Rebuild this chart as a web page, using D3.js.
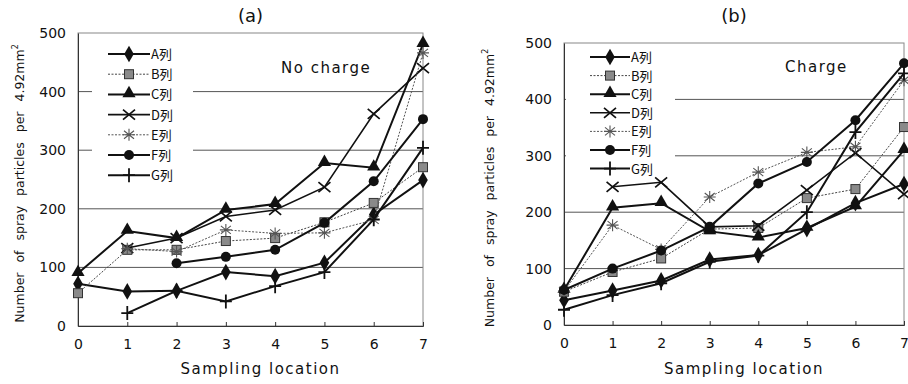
<!DOCTYPE html>
<html>
<head>
<meta charset="utf-8">
<script src="https://cdn.jsdelivr.net/npm/d3@7"></script>
<style>
  body { margin: 0; background: #fff; }
  svg { display: block; }
  text { font-family: "DejaVu Sans", "Noto Sans CJK JP", sans-serif; fill: #111; }
  .legend text { font-family: "Noto Sans CJK JP", "DejaVu Sans", sans-serif; }
</style>
</head>
<body>
<svg id="chart" width="908" height="384"></svg>
<script>
const locations = [0, 1, 2, 3, 4, 5, 6, 7];
const yTicks = [0, 100, 200, 300, 400, 500];
const seriesNames = ["A列", "B列", "C列", "D列", "E列", "F列", "G列"];

// (a) No charge
const noChargeA = [72, 59, 60, 92, 85, 108, 190, 249];
const noChargeB = [56, 130, 130, 145, 150, 177, 210, 271];
const noChargeC = [90, 162, 150, 198, 208, 278, 270, 481];
const noChargeD = [null, 133, 150, 187, 198, 237, 362, 440];
const noChargeE = [null, 132, 127, 164, 158, 159, 181, 466];
const noChargeF = [null, null, 107, 118, 130, 176, 247, 353];
const noChargeG = [null, 22, 60, 42, 68, 92, 182, 304];

// (b) Charge
const chargeA = [44, 61, 79, 116, 124, 170, 216, 250];
const chargeB = [59, 94, 118, 170, 172, 225, 241, 351];
const chargeC = [62, 208, 216, 166, 155, 172, 210, 310];
const chargeD = [null, 245, 253, 174, 176, 239, 305, 232];
const chargeE = [60, 177, 134, 227, 271, 306, 316, 434];
const chargeF = [62, 100, 132, 174, 251, 289, 363, 464];
const chargeG = [27, 53, 74, 112, 123, 200, 342, 446];

const styles = [
  { sym: "diamond", stroke: "#111", width: 2, dash: null },
  { sym: "square", stroke: "#444", width: 1, dash: "2,1.5" },
  { sym: "triangle", stroke: "#111", width: 2, dash: null },
  { sym: "cross", stroke: "#111", width: 1.6, dash: null },
  { sym: "star", stroke: "#555", width: 1, dash: "2,1.5" },
  { sym: "circle", stroke: "#111", width: 2, dash: null },
  { sym: "plus", stroke: "#111", width: 2, dash: null }
];

const svg = d3.select("#chart");

function drawMarker(g, type, x, y) {
  if (type === "diamond") {
    g.append("path").attr("d", d3.symbol(d3.symbolDiamond, 80)())
      .attr("transform", `translate(${x},${y})`).attr("fill", "#111");
  } else if (type === "square") {
    g.append("rect").attr("x", x - 4.5).attr("y", y - 4.5).attr("width", 9).attr("height", 9)
      .attr("fill", "#8a8a8a").attr("stroke", "#333").attr("stroke-width", 1);
  } else if (type === "triangle") {
    g.append("path").attr("d", d3.symbol(d3.symbolTriangle, 75)())
      .attr("transform", `translate(${x},${y - 1})`).attr("fill", "#111");
  } else if (type === "circle") {
    g.append("circle").attr("cx", x).attr("cy", y).attr("r", 5).attr("fill", "#111");
  } else if (type === "cross") {
    g.append("path").attr("d", `M${x - 6},${y - 5}L${x + 6},${y + 5}M${x - 6},${y + 5}L${x + 6},${y - 5}`)
      .attr("stroke", "#111").attr("stroke-width", 1.7);
  } else if (type === "star") {
    g.append("path").attr("d", `M${x - 5},${y - 4}L${x + 5},${y + 4}M${x - 5},${y + 4}L${x + 5},${y - 4}M${x},${y - 6}L${x},${y + 6}M${x - 6},${y}L${x + 6},${y}`)
      .attr("stroke", "#555").attr("stroke-width", 1.1);
  } else if (type === "plus") {
    g.append("path").attr("d", `M${x - 6},${y}L${x + 6},${y}M${x},${y - 7}L${x},${y + 7}`)
      .attr("stroke", "#111").attr("stroke-width", 1.8);
  }
}

function drawPanel(opts) {
  const { left, right, top, bottom, series, title, note, noteX, noteY, legend, yTitleX } = opts;
  const x = d3.scaleLinear().domain([0, 7]).range([left, right]);
  const y = d3.scaleLinear().domain([0, 500]).range([bottom, top]);
  const g = svg.append("g");

  // gridlines
  g.selectAll(".grid").data(yTicks.slice(1, 5)).enter().append("line")
    .attr("x1", left).attr("x2", right)
    .attr("y1", d => y(d)).attr("y2", d => y(d))
    .attr("stroke", "#555").attr("stroke-width", 1);

  // frame
  g.append("rect").attr("x", left).attr("y", top)
    .attr("width", right - left).attr("height", bottom - top)
    .attr("fill", "none").attr("stroke", "#888").attr("stroke-width", 1);

  // legend background hides the gridlines
  const lg = g.append("g").attr("class", "legend");
  lg.append("rect").attr("x", legend.x0).attr("y", legend.y0)
    .attr("width", legend.w).attr("height", legend.h).attr("fill", "#fff");

  // axes
  const xAxis = d3.axisBottom(x).tickValues(locations).tickSize(-4).tickPadding(13).tickFormat(d3.format("d"));
  const gx = g.append("g").attr("transform", `translate(0,${bottom})`).call(xAxis);
  gx.select(".domain").attr("stroke", "#333");
  gx.selectAll(".tick line").attr("stroke", "#333");
  gx.selectAll("text").attr("font-size", 14).attr("fill", "#111")
    .attr("font-family", "DejaVu Sans");

  const yAxis = d3.axisLeft(y).tickValues(yTicks).tickSize(0).tickPadding(12);
  const gy = g.append("g").attr("transform", `translate(${left},0)`).call(yAxis);
  gy.select(".domain").attr("stroke", "#333");
  gy.selectAll("text").attr("font-size", 14).attr("fill", "#111")
    .attr("font-family", "DejaVu Sans");

  // lines + markers
  series.forEach((vals, i) => {
    const st = styles[i];
    const pts = locations.map((l, j) => ({ l, v: vals[j] })).filter(d => d.v != null);
    const line = d3.line().x(d => x(d.l)).y(d => y(d.v));
    g.append("path").datum(pts).attr("d", line)
      .attr("fill", "none").attr("stroke", st.stroke)
      .attr("stroke-width", st.width)
      .attr("stroke-dasharray", st.dash);
    pts.forEach(d => drawMarker(g, st.sym, x(d.l), y(d.v)));
  });

  // legend entries
  seriesNames.forEach((name, i) => {
    const st = styles[i];
    const ly = legend.firstY + i * legend.step;
    lg.append("line").attr("x1", legend.lineX0).attr("x2", legend.lineX1)
      .attr("y1", ly).attr("y2", ly)
      .attr("stroke", st.stroke).attr("stroke-width", st.width)
      .attr("stroke-dasharray", st.dash);
    drawMarker(lg, st.sym, (legend.lineX0 + legend.lineX1) / 2, ly);
    lg.append("text").attr("x", legend.lineX1 + 1).attr("y", ly + 5)
      .attr("font-size", 13).text(name);
  });

  // titles
  svg.append("text").attr("x", (left + right) / 2).attr("y", 22)
    .attr("text-anchor", "middle").attr("font-size", 18)
    .attr("font-family", "DejaVu Sans Mono").text(title);

  svg.append("text").attr("x", noteX).attr("y", noteY)
    .attr("font-size", 15).attr("letter-spacing", 1.5).text(note);

  svg.append("text").attr("x", (left + right) / 2 + 10).attr("y", 374)
    .attr("text-anchor", "middle").attr("font-size", 15)
    .attr("letter-spacing", 1.5).text("Sampling location");

  const yt = svg.append("text")
    .attr("transform", `translate(${yTitleX},${(top + bottom) / 2 + 4}) rotate(-90)`)
    .attr("text-anchor", "middle").attr("font-size", 12.5)
    .attr("word-spacing", 6);
  yt.append("tspan").text("Number of spray particles per 4.92mm");
  yt.append("tspan").attr("font-size", 8).attr("dy", -6).text("2");
}

drawPanel({
  left: 78, right: 423, top: 33, bottom: 326,
  series: [noChargeA, noChargeB, noChargeC, noChargeD, noChargeE, noChargeF, noChargeG],
  title: "(a)", note: "No charge", noteX: 281, noteY: 73, yTitleX: 24,
  legend: { x0: 92, y0: 40, w: 101, h: 166, firstY: 54, step: 20.2, lineX0: 108, lineX1: 150 }
});

drawPanel({
  left: 564, right: 904, top: 43, bottom: 325,
  series: [chargeA, chargeB, chargeC, chargeD, chargeE, chargeF, chargeG],
  title: "(b)", note: "Charge", noteX: 785, noteY: 72, yTitleX: 494,
  legend: { x0: 566, y0: 46, w: 109, h: 128, firstY: 57, step: 18.6, lineX0: 590, lineX1: 630 }
});
</script>
</body>
</html>
